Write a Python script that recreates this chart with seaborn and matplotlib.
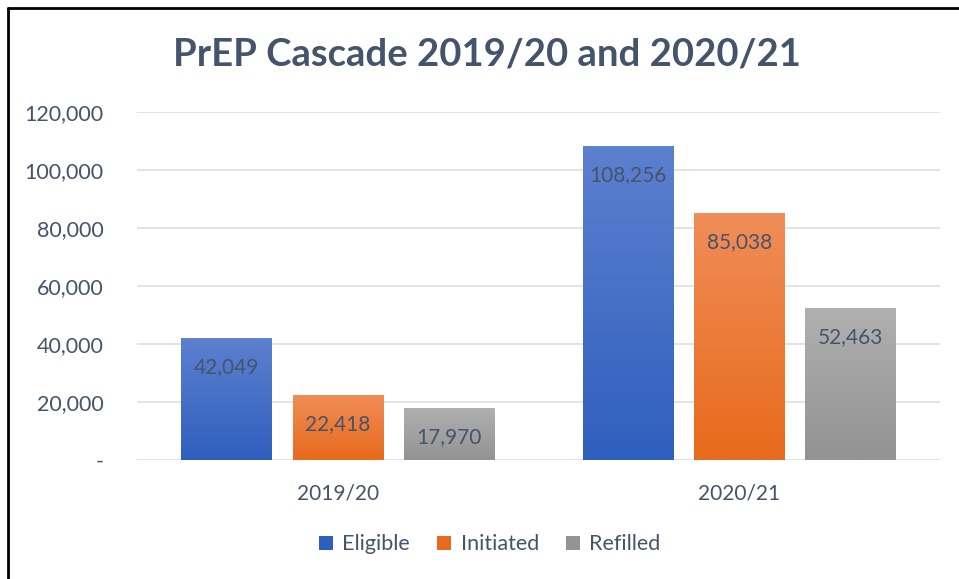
import numpy as np
import pandas as pd
import matplotlib
matplotlib.use("Agg")
import matplotlib.pyplot as plt
from matplotlib.lines import Line2D
from matplotlib.colors import LinearSegmentedColormap
from matplotlib.ticker import FuncFormatter
import seaborn as sns

# data
years = ["2019/20", "2020/21"]
stages = ["Eligible", "Initiated", "Refilled"]
eligible = [42049, 108256]
initiated = [22418, 85038]
refilled = [17970, 52463]

# (top, bottom) colours of the gradient fill
grad = {
    "Eligible": ("#5d80cf", "#2f5fbe"),
    "Initiated": ("#f08d58", "#e86a1c"),
    "Refilled": ("#b0b0b0", "#939393"),
}
text_col = "#44546a"

df = pd.DataFrame({
    "year": years * 3,
    "stage": [s for s in stages for _ in years],
    "value": eligible + initiated + refilled,
})

sns.set_theme(style="white")
plt.rcParams["font.family"] = ["Lato", "DejaVu Sans"]

fig = plt.figure(figsize=(9.59, 5.79), dpi=100)
ax = fig.add_axes([0.1429, 0.2055, 0.8371, 0.6011])

palette = {s: grad[s][1] for s in stages}
sns.barplot(data=df, x="year", y="value", hue="stage", hue_order=stages,
            palette=palette, width=0.8325, gap=0.19, ax=ax, legend=False,
            saturation=1, linewidth=0)

ax.set_ylim(0, 120000)
ax.set_xlim(-0.5, 1.5)
ax.set_yticks(np.arange(0, 120001, 20000))
ax.yaxis.set_major_formatter(FuncFormatter(lambda v, p: "-" if v == 0 else f"{v:,.0f}"))
ax.grid(axis="y", color="#dde1e8", lw=1.3)
ax.set_axisbelow(True)
for s in ax.spines.values():
    s.set_visible(False)
ax.tick_params(axis="y", labelsize=15.5, colors=text_col, pad=24, length=0)
ax.tick_params(axis="x", labelsize=15, colors=text_col, pad=17, length=0)
ax.set_xlabel("")
ax.set_ylabel("")

# gradient fills + value labels
for cont, stage in zip(ax.containers, stages):
    cmap = LinearSegmentedColormap.from_list(stage, [grad[stage][1], grad[stage][0]])
    for bar in cont:
        x0, y0 = bar.get_x(), bar.get_y()
        w, h = bar.get_width(), bar.get_height()
        im = ax.imshow(np.linspace(0, 1, 100).reshape(-1, 1), cmap=cmap,
                       extent=[x0, x0 + w, y0, y0 + h], origin="lower",
                       aspect="auto", zorder=bar.get_zorder())
        im.set_clip_path(bar)
    ax.bar_label(cont, labels=[f"{v:,.0f}" for v in cont.datavalues],
                 padding=-28, color=text_col, fontsize=15)
ax.set_xlim(-0.5, 1.5)
ax.set_ylim(0, 120000)

fig.suptitle("PrEP Cascade 2019/20 and 2020/21", x=0.508, y=0.935,
             fontsize=27.5, fontweight="bold", color=text_col)

handles = [Line2D([], [], marker="s", ls="", markersize=10,
                  markerfacecolor=grad[s][1], markeredgewidth=0) for s in stages]
fig.legend(handles, stages, loc="center", bbox_to_anchor=(0.51, 0.06), ncol=3,
           frameon=False, fontsize=15.5, labelcolor=text_col,
           handlelength=0.8, handletextpad=0.35, columnspacing=1.2)

# chart border (left and top edges visible)
fig.add_artist(Line2D([7.5 / 959, 7.5 / 959], [0, 1 - 7.5 / 579], color="black",
                      lw=2, transform=fig.transFigure))
fig.add_artist(Line2D([7.5 / 959, 1], [1 - 7.5 / 579, 1 - 7.5 / 579], color="black",
                      lw=2, transform=fig.transFigure))

fig.savefig("out.png", dpi=100)
